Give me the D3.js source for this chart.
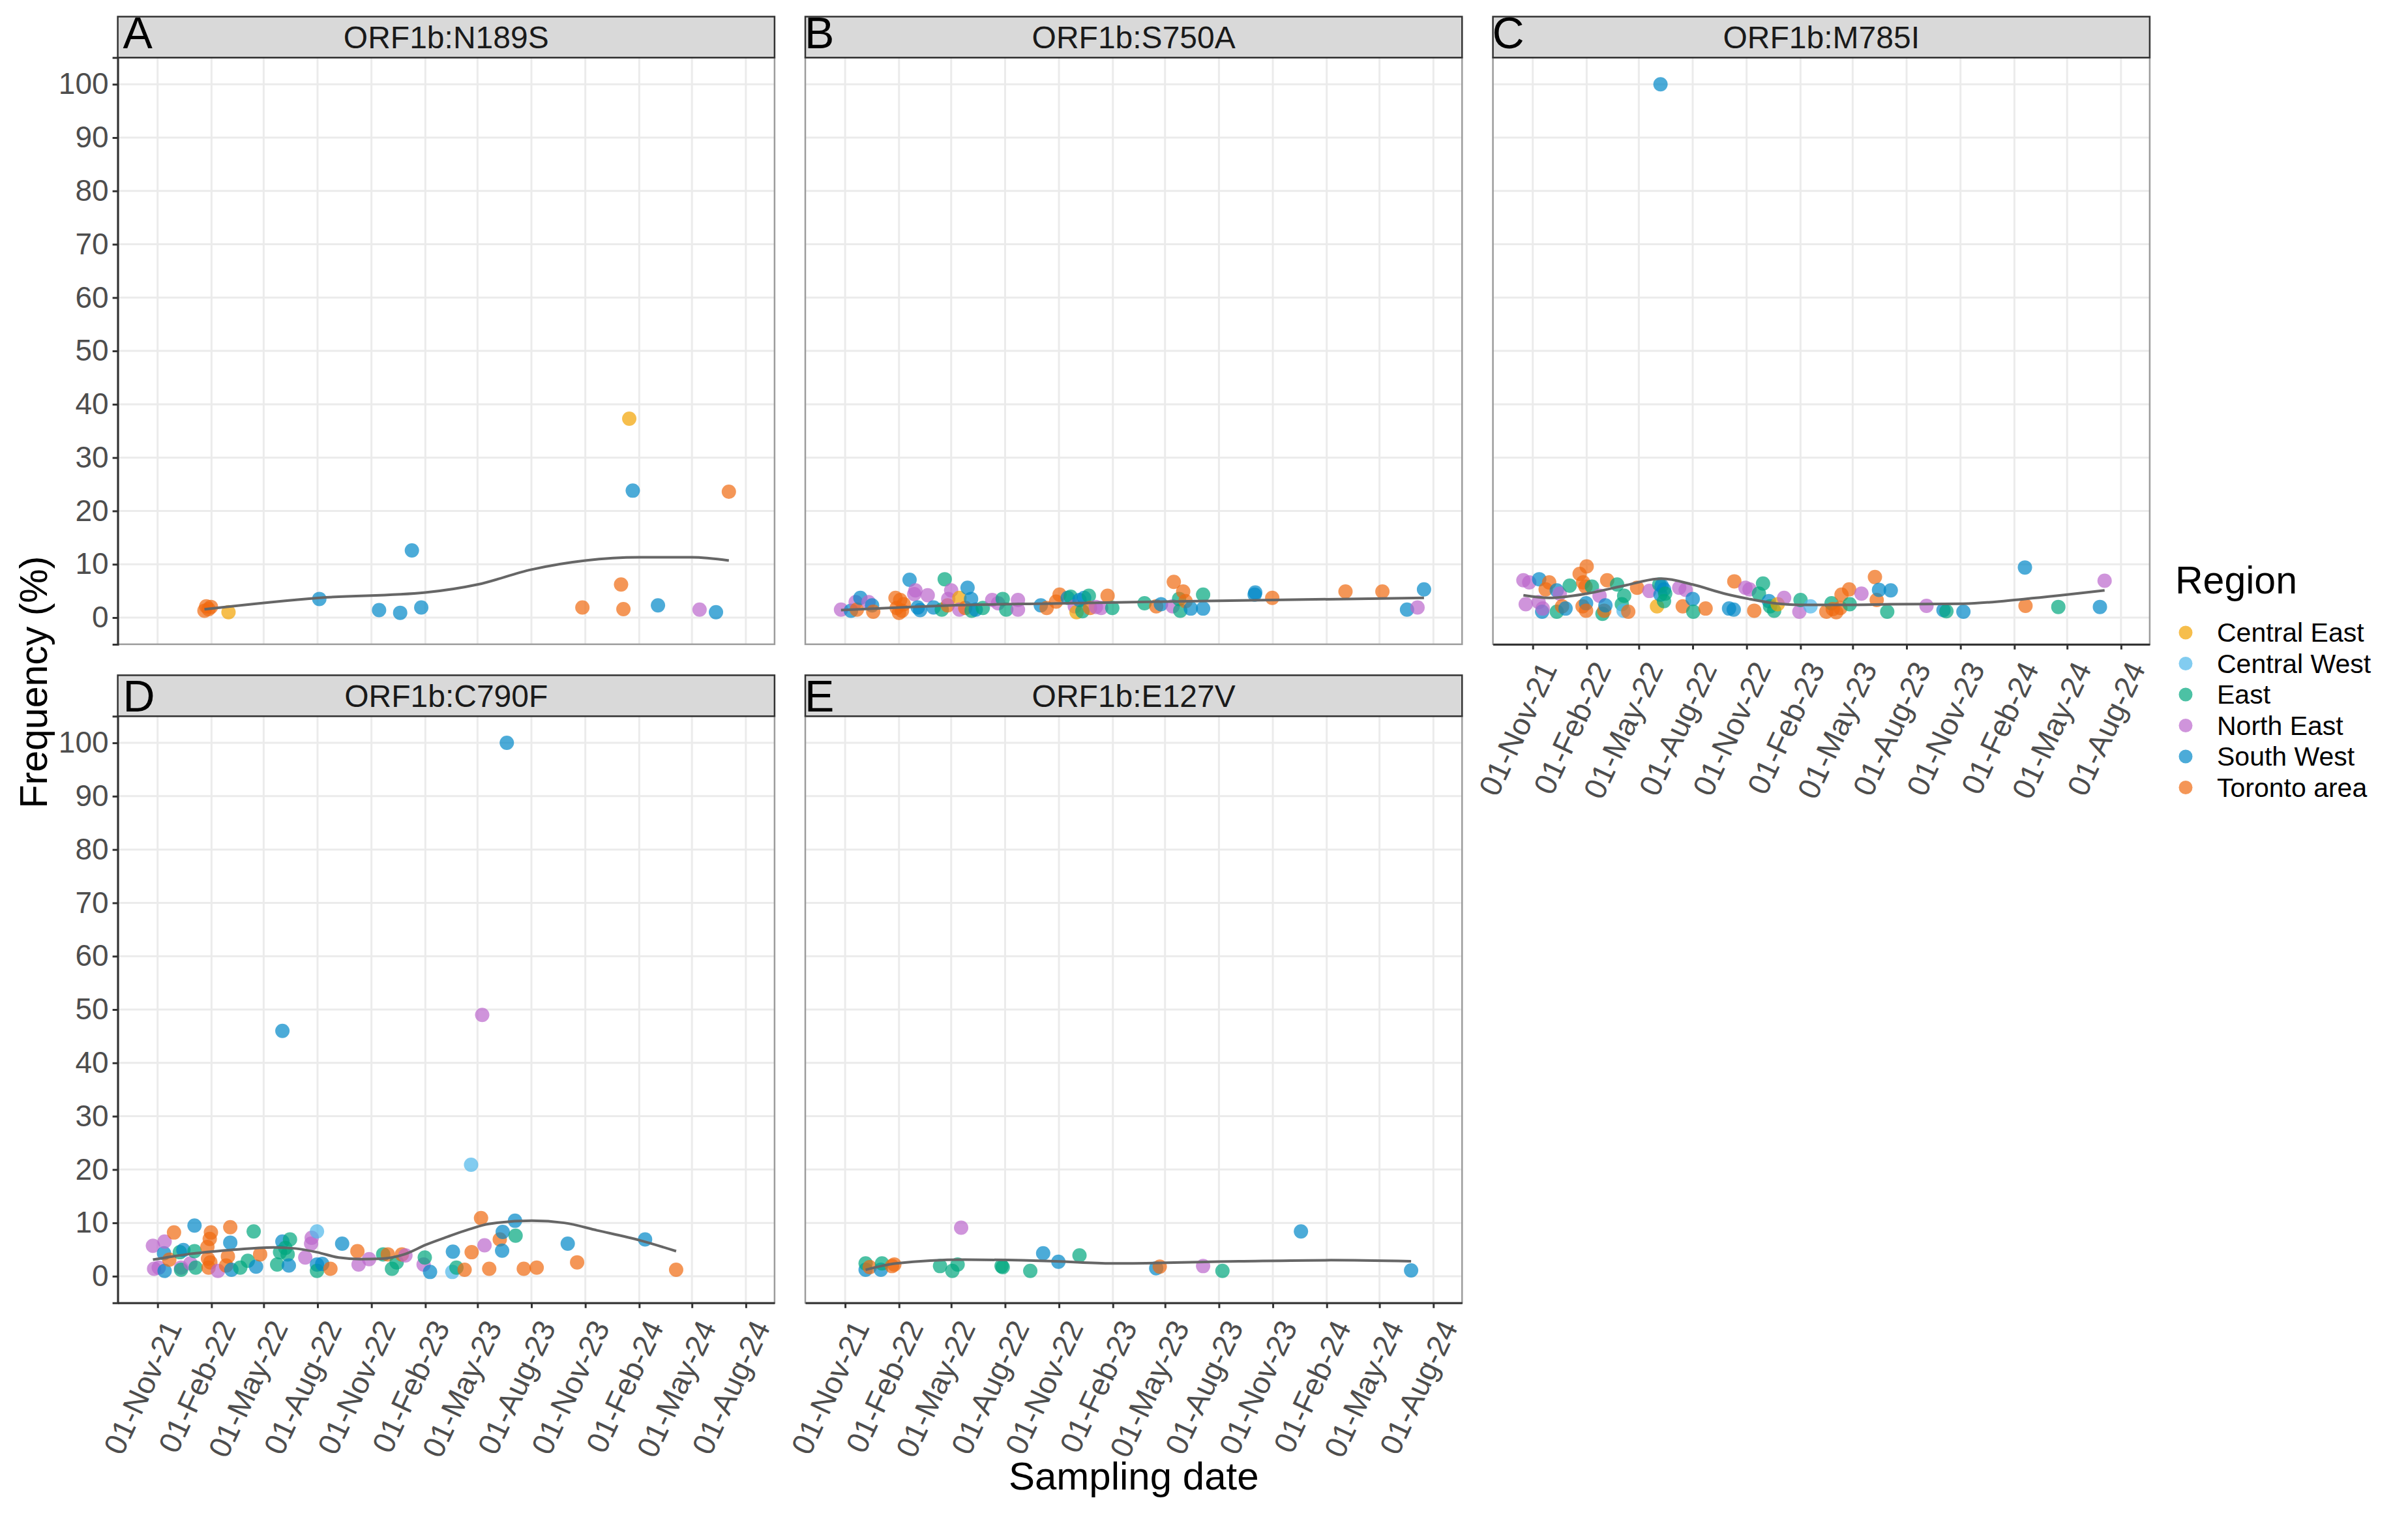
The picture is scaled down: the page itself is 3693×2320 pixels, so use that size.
<!DOCTYPE html>
<html>
<head>
<meta charset="utf-8">
<script src="https://cdn.jsdelivr.net/npm/d3@7"></script>
<style>
  body { margin: 0; background: #fff; }
  svg { display: block; font-family: "Liberation Sans", Arial, Helvetica, sans-serif; }
</style>
</head>
<body>
<svg id="chart"></svg>
<script>
var mutations = ["ORF1b:N189S", "ORF1b:S750A", "ORF1b:M785I", "ORF1b:C790F", "ORF1b:E127V"];
var tags = ["A", "B", "C", "D", "E"];
var regions = ["Central East", "Central West", "East", "North East", "South West", "Toronto area"];
var regionCodes = ["CE", "CW", "E", "NE", "SW", "TA"];
var palette = ["#F2A200", "#4DB6EA", "#00A67E", "#BB66CC", "#0088C8", "#F06A10"];

var xTicks = ["2021-11-01", "2022-02-01", "2022-05-01", "2022-08-01", "2022-11-01", "2023-02-01",
              "2023-05-01", "2023-08-01", "2023-11-01", "2024-02-01", "2024-05-01", "2024-08-01"];
var yTicks = [0, 10, 20, 30, 40, 50, 60, 70, 80, 90, 100];

// [sampling date, region, frequency %]
var ptsN189S = [
  ["2022-01-20","TA",1.3],["2022-01-23","TA",2.1],["2022-01-27","TA",1.6],["2022-01-31","TA",2.0],
  ["2022-03-02","CE",1.0],["2022-08-04","SW",3.5],["2022-11-14","SW",1.4],["2022-12-20","SW",0.9],
  ["2023-01-09","SW",12.6],["2023-01-25","SW",1.9],["2023-10-27","TA",1.9],["2024-01-01","TA",6.2],
  ["2024-01-05","TA",1.6],["2024-01-15","CE",37.3],["2024-01-21","SW",23.8],["2024-03-04","SW",2.3],
  ["2024-05-14","NE",1.5],["2024-06-11","SW",1.0],["2024-07-03","TA",23.6]
];
var ptsS750A = [
  ["2021-10-25","NE",1.5],["2021-11-11","SW",1.3],["2021-11-19","NE",2.9],["2021-11-21","TA",1.5],
  ["2021-11-27","SW",3.7],["2021-12-11","NE",2.9],["2021-12-17","SW",2.3],["2021-12-19","TA",1.1],
  ["2022-01-26","TA",3.7],["2022-01-28","TA",1.8],["2022-02-01","TA",0.9],["2022-02-03","TA",3.3],
  ["2022-02-06","TA",1.3],["2022-02-09","TA",2.5],["2022-02-19","SW",7.1],["2022-02-27","NE",4.4],
  ["2022-03-01","NE",5.1],["2022-03-05","SW",1.9],["2022-03-09","SW",1.4],["2022-03-22","NE",4.2],
  ["2022-04-01","SW",1.9],["2022-04-15","E",1.5],["2022-04-20","E",7.2],["2022-04-25","TA",2.3],
  ["2022-04-26","NE",3.5],["2022-05-01","NE",5.1],["2022-05-15","CE",3.7],["2022-05-15","NE",1.5],
  ["2022-05-25","TA",1.8],["2022-05-29","SW",5.6],["2022-06-04","SW",3.5],["2022-06-05","E",1.3],
  ["2022-06-12","SW",1.5],["2022-06-24","E",1.8],["2022-07-10","NE",3.3],["2022-07-20","NE",2.7],
  ["2022-07-28","E",3.5],["2022-08-03","E",1.5],["2022-08-23","NE",3.3],["2022-08-23","NE",1.5],
  ["2022-10-01","SW",2.3],["2022-10-11","TA",1.8],["2022-10-27","TA",3.0],["2022-11-02","TA",4.3],
  ["2022-11-16","SW",3.7],["2022-11-21","E",3.9],["2022-11-28","NE",2.1],["2022-12-01","CE",1.0],
  ["2022-12-06","SW",3.3],["2022-12-11","E",1.2],["2022-12-14","SW",3.7],["2022-12-22","E",4.1],
  ["2022-12-24","TA",1.8],["2023-01-03","NE",2.0],["2023-01-12","NE",1.8],["2023-01-23","TA",4.1],
  ["2023-01-31","E",1.8],["2023-03-27","E",2.7],["2023-04-16","TA",2.1],["2023-04-24","SW",2.5],
  ["2023-05-14","NE",2.1],["2023-05-16","TA",6.7],["2023-05-25","E",3.5],["2023-05-27","E",1.3],
  ["2023-06-01","TA",4.9],["2023-06-05","TA",3.1],["2023-06-14","SW",1.7],["2023-07-05","E",4.3],
  ["2023-07-05","SW",1.7],["2023-10-01","SW",4.3],["2023-10-02","SW",4.7],["2023-10-31","TA",3.7],
  ["2024-03-04","TA",4.9],["2024-05-06","TA",4.9],["2024-06-17","SW",1.5],["2024-07-05","NE",1.9],
  ["2024-07-16","SW",5.3]
];
var ptsM785I = [
  ["2021-10-16","NE",7.0],["2021-10-20","NE",2.5],["2021-10-26","NE",6.6],["2021-11-11","NE",2.9],
  ["2021-11-12","SW",7.2],["2021-11-17","SW",1.1],["2021-11-18","NE",1.7],["2021-11-23","TA",5.3],
  ["2021-11-29","TA",6.6],["2021-12-12","SW",5.1],["2021-12-12","E",1.1],["2021-12-17","NE",4.5],
  ["2021-12-21","TA",2.1],["2021-12-27","SW",1.7],["2022-01-03","E",6.0],["2022-01-20","TA",8.2],
  ["2022-01-25","TA",2.1],["2022-01-26","TA",6.6],["2022-01-30","TA",5.8],["2022-01-31","SW",2.7],
  ["2022-01-31","TA",1.3],["2022-02-01","TA",9.6],["2022-02-10","E",5.8],["2022-02-23","NE",4.1],
  ["2022-02-28","E",0.7],["2022-03-03","TA",1.3],["2022-03-05","SW",2.3],["2022-03-08","TA",7.0],
  ["2022-03-25","E",6.2],["2022-04-02","E",2.5],["2022-04-05","CW",1.3],["2022-04-06","E",4.1],
  ["2022-04-13","TA",1.1],["2022-04-28","TA",5.6],["2022-05-19","NE",5.0],["2022-06-01","CE",2.1],
  ["2022-06-05","E",6.2],["2022-06-07","SW",4.3],["2022-06-07","SW",100],["2022-06-09","SW",6.0],
  ["2022-06-13","SW",5.3],["2022-06-13","E",3.1],["2022-06-15","E",4.5],["2022-07-09","NE",5.6],
  ["2022-07-15","TA",2.1],["2022-07-20","NE",5.2],["2022-08-01","SW",3.5],["2022-08-02","E",1.1],
  ["2022-08-23","TA",1.7],["2022-10-02","SW",1.7],["2022-10-10","SW",1.5],["2022-10-11","TA",6.8],
  ["2022-10-30","NE",5.6],["2022-11-06","NE",5.3],["2022-11-14","TA",1.3],["2022-11-22","E",4.5],
  ["2022-11-29","E",6.4],["2022-12-09","SW",3.1],["2022-12-11","E",2.1],["2022-12-18","E",1.3],
  ["2022-12-24","CE",2.5],["2023-01-04","NE",3.7],["2023-01-30","NE",1.1],["2023-02-01","E",3.3],
  ["2023-02-18","CW",2.1],["2023-03-17","TA",1.1],["2023-03-26","E",2.7],["2023-03-28","TA",1.6],
  ["2023-04-03","TA",1.0],["2023-04-10","TA",1.8],["2023-04-12","TA",4.3],["2023-04-25","TA",5.3],
  ["2023-04-26","E",2.5],["2023-05-16","NE",4.5],["2023-06-08","TA",7.6],["2023-06-11","TA",3.3],
  ["2023-06-15","SW",5.2],["2023-06-29","E",1.1],["2023-07-05","SW",5.1],["2023-09-04","NE",2.2],
  ["2023-10-03","SW",1.4],["2023-10-08","E",1.2],["2023-11-06","SW",1.1],["2024-02-19","SW",9.4],
  ["2024-02-20","TA",2.2],["2024-04-16","E",2.0],["2024-06-26","SW",2.0],["2024-07-04","NE",6.9]
];
var ptsC790F = [
  ["2021-10-24","NE",5.7],["2021-10-26","NE",1.4],["2021-11-03","NE",1.6],["2021-11-12","SW",4.3],
  ["2021-11-13","NE",6.5],["2021-11-13","SW",1.0],["2021-11-21","TA",3.1],["2021-11-29","TA",8.2],
  ["2021-12-09","E",4.5],["2021-12-11","NE",1.6],["2021-12-11","E",1.2],["2021-12-15","SW",4.9],
  ["2021-12-27","NE",2.4],["2022-01-03","SW",9.5],["2022-01-03","E",4.7],["2022-01-05","E",1.6],
  ["2022-01-25","TA",5.5],["2022-01-26","TA",3.3],["2022-01-27","TA",1.6],["2022-01-29","TA",7.0],
  ["2022-01-30","TA",2.6],["2022-01-31","TA",8.2],["2022-02-12","NE",1.0],["2022-02-26","TA",2.0],
  ["2022-03-01","TA",3.7],["2022-03-05","TA",9.2],["2022-03-05","SW",6.3],["2022-03-07","SW",1.2],
  ["2022-03-22","E",1.6],["2022-04-04","E",2.9],["2022-04-14","E",8.4],["2022-04-18","SW",1.8],
  ["2022-04-25","TA",4.1],["2022-05-24","E",2.2],["2022-05-29","E",4.5],["2022-06-02","SW",6.5],
  ["2022-06-02","SW",46.0],["2022-06-07","E",5.3],["2022-06-11","E",4.1],["2022-06-13","SW",2.0],
  ["2022-06-15","E",6.9],["2022-07-11","NE",3.5],["2022-07-21","NE",6.1],["2022-07-22","NE",7.2],
  ["2022-07-31","CW",8.4],["2022-07-31","SW",2.2],["2022-07-31","E",1.0],["2022-08-09","SW",2.3],
  ["2022-08-23","TA",1.4],["2022-09-12","SW",6.1],["2022-10-08","TA",4.7],["2022-10-10","NE",2.2],
  ["2022-10-28","NE",3.2],["2022-11-21","E",4.1],["2022-11-29","TA",4.1],["2022-12-06","E",1.4],
  ["2022-12-14","E",2.6],["2022-12-23","TA",4.1],["2022-12-29","NE",3.9],["2023-01-29","NE",2.2],
  ["2023-01-31","E",3.5],["2023-02-09","SW",0.8],["2023-03-19","CW",0.8],["2023-03-20","SW",4.6],
  ["2023-03-26","E",1.6],["2023-04-09","TA",1.2],["2023-04-20","CW",20.9],["2023-04-21","TA",4.5],
  ["2023-05-07","TA",10.9],["2023-05-09","NE",49.0],["2023-05-13","NE",5.8],["2023-05-21","TA",1.4],
  ["2023-06-08","TA",6.9],["2023-06-12","SW",4.8],["2023-06-13","SW",8.3],["2023-06-20","SW",100],
  ["2023-07-04","SW",10.4],["2023-07-05","E",7.6],["2023-07-19","TA",1.4],["2023-08-10","TA",1.6],
  ["2023-10-02","SW",6.1],["2023-10-18","TA",2.6],["2024-02-11","SW",6.9],["2024-04-04","TA",1.2]
];
var ptsE127V = [
  ["2021-12-06","SW",1.2],["2021-12-06","E",2.4],["2021-12-13","TA",1.7],["2022-01-01","SW",1.2],
  ["2022-01-03","E",2.4],["2022-01-20","TA",1.9],["2022-01-24","TA",2.2],["2022-04-12","E",1.9],
  ["2022-05-03","E",1.0],["2022-05-12","E",2.2],["2022-05-18","NE",9.1],["2022-07-26","E",1.9],
  ["2022-07-28","E",1.7],["2022-09-13","E",1.0],["2022-10-05","SW",4.3],["2022-10-31","SW",2.7],
  ["2022-12-06","E",3.9],["2023-04-16","SW",1.5],["2023-04-22","TA",1.8],["2023-07-05","NE",1.9],
  ["2023-08-07","E",1.0],["2023-12-19","SW",8.4],["2024-06-24","SW",1.1]
];

// smoothed trend: [date, frequency %]
var trendN189S = [["2022-01-20",1.55],["2022-08-04",3.7],["2023-02-01",4.7],["2023-05-01",6.2],
  ["2023-08-01",9.0],["2023-11-01",10.7],["2024-02-01",11.3],["2024-05-01",11.3],["2024-07-03",10.7]];
var trendS750A = [["2021-10-25",1.4],["2022-02-01",1.9],["2022-05-01",2.3],["2022-11-01",2.65],
  ["2023-05-01",3.0],["2023-11-01",3.3],["2024-07-16",3.7]];
var trendM785I = [["2021-10-16",4.2],["2021-11-29",3.7],["2022-02-01",4.5],["2022-04-06",6.0],
  ["2022-06-09",7.3],["2022-08-01",6.2],["2022-09-24",4.5],["2022-11-05",3.5],["2022-12-18",2.7],
  ["2023-01-29",2.4],["2023-04-24",2.4],["2023-07-04",2.5],["2023-11-06",2.6],["2024-02-19",3.5],
  ["2024-07-04",5.1]];
var trendC790F = [["2021-10-24",3.1],["2021-12-21",4.1],["2022-03-05",4.9],["2022-05-18",5.4],
  ["2022-06-24",5.2],["2022-07-31",4.5],["2022-09-06",3.5],["2022-10-13",3.2],["2022-11-20",3.3],
  ["2022-12-27",4.1],["2023-02-02",5.9],["2023-03-11",7.4],["2023-04-17",8.8],["2023-05-20",9.8],
  ["2023-08-02",10.4],["2023-09-26",10.0],["2023-11-21",8.6],["2024-02-03",6.7],["2024-04-04",4.7]];
var trendE127V = [["2021-12-06",1.2],["2022-01-27",2.4],["2022-05-24",3.1],["2022-10-26",2.8],
  ["2023-01-30",2.4],["2023-09-04",2.8],["2024-02-08",3.0],["2024-06-24",2.8]];

var W = 3693, H = 2320;
var colLeft = [180.6, 1235, 2289.6];
var panelW = 1007.3;
var stripTop = [25.5, 1035.4];
var stripH = 62.8;
var plotH = 899.6;
var tagBase = [74, 1091];

var parseDate = d3.timeParse("%Y-%m-%d");
var fmt = d3.timeFormat("%d-%b-%y");

var x = d3.scaleTime()
  .domain([parseDate("2021-08-25"), parseDate("2024-09-19")])
  .range([0, panelW]);
var y = d3.scaleLinear().domain([-5, 105]).range([plotH, 0]);
var colour = d3.scaleOrdinal().domain(regionCodes).range(palette);

var svg = d3.select("#chart").attr("width", W).attr("height", H);
svg.append("rect").attr("width", W).attr("height", H).attr("fill", "#fff");

var panels = [
  {pts: ptsN189S, trend: trendN189S},
  {pts: ptsS750A, trend: trendS750A},
  {pts: ptsM785I, trend: trendM785I},
  {pts: ptsC790F, trend: trendC790F},
  {pts: ptsE127V, trend: trendE127V}
];

var line = d3.line()
  .x(function(d) { return x(parseDate(d[0])); })
  .y(function(d) { return y(d[1]); })
  .curve(d3.curveMonotoneX);

panels.forEach(function(p, i) {
  var col = i % 3, row = Math.floor(i / 3);
  var left = colLeft[col], top = stripTop[row] + stripH;
  var g = svg.append("g").attr("transform", "translate(" + left + "," + top + ")");

  // grid
  g.selectAll(".vg").data(xTicks).enter().append("line")
    .attr("x1", function(d) { return x(parseDate(d)); })
    .attr("x2", function(d) { return x(parseDate(d)); })
    .attr("y1", 0).attr("y2", plotH)
    .attr("stroke", "#EBEBEB").attr("stroke-width", 3);
  g.selectAll(".hg").data(yTicks).enter().append("line")
    .attr("x1", 0).attr("x2", panelW)
    .attr("y1", function(d) { return y(d); })
    .attr("y2", function(d) { return y(d); })
    .attr("stroke", "#EBEBEB").attr("stroke-width", 3);

  // points
  g.selectAll("circle").data(p.pts).enter().append("circle")
    .attr("cx", function(d) { return x(parseDate(d[0])); })
    .attr("cy", function(d) { return y(d[2]); })
    .attr("r", 11)
    .attr("fill", function(d) { return colour(d[1]); })
    .attr("fill-opacity", 0.7);

  // smooth
  g.append("path").datum(p.trend)
    .attr("d", line)
    .attr("fill", "none")
    .attr("stroke", "#666666")
    .attr("stroke-width", 4);

  // border
  g.append("rect").attr("width", panelW).attr("height", plotH)
    .attr("fill", "none").attr("stroke", "#9C9C9C").attr("stroke-width", 2.5);

  // y axis only on the left column
  if (col === 0) {
    var ya = g.append("g").call(d3.axisLeft(y).tickValues(yTicks).tickSize(8).tickPadding(6));
    ya.select(".domain").attr("stroke", "#333").attr("stroke-width", 3);
    ya.selectAll(".tick line").attr("stroke", "#333").attr("stroke-width", 3);
    ya.selectAll("text").attr("font-size", 46).attr("fill", "#4D4D4D")
      .attr("font-family", "Liberation Sans, Arial, sans-serif");
  }
  // x axis where nothing sits below
  if (i >= 2) {
    var xa = g.append("g").attr("transform", "translate(0," + plotH + ")")
      .call(d3.axisBottom(x).tickValues(xTicks.map(parseDate)).tickFormat(fmt).tickSize(8).tickSizeOuter(0));
    xa.select(".domain").attr("stroke", "#333").attr("stroke-width", 3);
    xa.selectAll(".tick line").attr("stroke", "#333").attr("stroke-width", 3);
    xa.selectAll("text")
      .attr("font-size", 47).attr("fill", "#4D4D4D")
      .attr("font-family", "Liberation Sans, Arial, sans-serif")
      .attr("x", 0).attr("y", 0).attr("dy", "0.35em")
      .attr("text-anchor", "end")
      .attr("transform", "translate(23,30) rotate(-65)");
  }

  // strip
  svg.append("rect")
    .attr("x", left).attr("y", stripTop[row])
    .attr("width", panelW).attr("height", stripH)
    .attr("fill", "#D9D9D9").attr("stroke", "#333").attr("stroke-width", 2.5);
  svg.append("text")
    .attr("x", left + panelW / 2).attr("y", stripTop[row] + stripH / 2)
    .attr("dy", "0.35em").attr("text-anchor", "middle")
    .attr("font-size", 48).attr("fill", "#1A1A1A")
    .text(mutations[i]);
  svg.append("text")
    .attr("x", left + (col === 0 ? 8 : -1)).attr("y", tagBase[row])
    .attr("font-size", 68).attr("fill", "#000")
    .text(tags[i]);
});

// axis titles
svg.append("text")
  .attr("x", colLeft[0] + (colLeft[2] + panelW - colLeft[0]) / 2).attr("y", 2284)
  .attr("text-anchor", "middle").attr("font-size", 60).attr("fill", "#000")
  .text("Sampling date");
svg.append("text")
  .attr("transform", "translate(72,1046) rotate(-90)")
  .attr("text-anchor", "middle").attr("font-size", 59).attr("fill", "#000")
  .text("Frequency (%)");

// legend
var legend = svg.append("g").attr("transform", "translate(3336,0)");
legend.append("text").attr("x", 0).attr("y", 910)
  .attr("font-size", 59).attr("fill", "#000").text("Region");
var items = legend.selectAll(".item").data(regions).enter().append("g")
  .attr("transform", function(d, k) { return "translate(0," + (970 + k * 47.5) + ")"; });
items.append("circle").attr("cx", 16).attr("cy", 0).attr("r", 10.5)
  .attr("fill", function(d, k) { return palette[k]; }).attr("fill-opacity", 0.7);
items.append("text").attr("x", 64).attr("y", 0).attr("dy", "0.35em")
  .attr("font-size", 41).attr("fill", "#000").text(function(d) { return d; });
</script>
</body>
</html>
